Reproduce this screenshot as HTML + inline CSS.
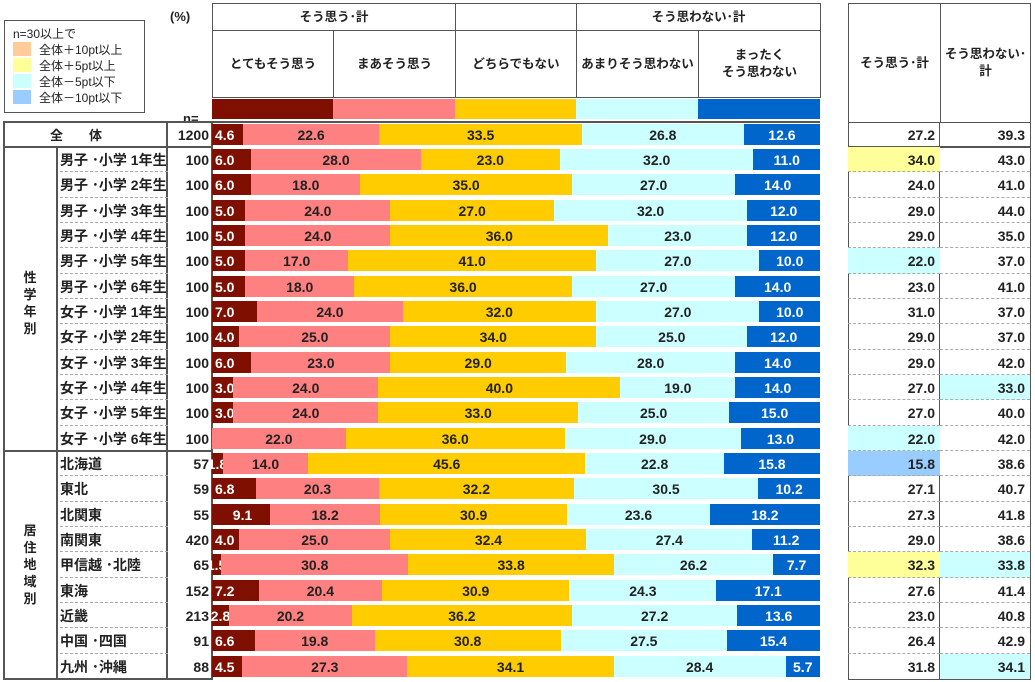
<!DOCTYPE html>
<html><head><meta charset="utf-8"><style>
*{box-sizing:border-box;margin:0;padding:0}
body{width:1035px;height:682px;background:#fff;position:relative;overflow:hidden;font-family:"Liberation Sans","Noto Sans CJK JP",sans-serif;color:#222;font-weight:bold;font-size:13px}
.a{position:absolute}
.r{position:absolute;left:0;width:1035px;height:25.33px}
.lb{position:absolute;left:60px;top:0;height:25.33px;line-height:27px;font-size:14px;width:108px;border-bottom:1px dashed #aaa}
.n{position:absolute;left:167px;width:42px;text-align:right;line-height:27px;font-size:14px}
.bar{position:absolute;left:212px;width:608px;top:2px;height:21px;display:flex}
.bar div{flex-basis:0;text-align:center;line-height:23px;font-size:14px;white-space:nowrap;overflow:visible;min-width:0}
.c1{background:#7f0f00;color:#fff;text-align:left!important;padding-left:3px}
.sm{display:flex;justify-content:center;padding:0!important}
.c2{background:#ff8080}.c3{background:#ffcc00}.c4{background:#ccffff}
.c5{background:#0066cc;color:#fff}
.t1,.t2{position:absolute;top:0;height:25.33px;line-height:27px;text-align:right;padding-right:5px;font-size:14px;border-bottom:1px dashed #aaa}
.t1{left:848px;width:92px}.t2{left:940px;width:90px}
.y{background:#ffff99}.cy{background:#ccffff}.bl{background:#99ccff}
.h{position:absolute;border:1px solid #555;text-align:center;font-size:12.5px;display:flex;align-items:center;justify-content:center;line-height:17px}
.vl{position:absolute;width:2px;background:#555}
.hl{position:absolute;height:2px;background:#555}
</style></head><body>
<div class="a" style="left:4px;top:20px;width:141px;height:93px;border:1px solid #555;font-weight:normal;font-size:12px;line-height:16px;padding:5px 0 0 8px">
<div>n=30以上で</div>
<div><span style="display:inline-block;width:18px;height:14px;background:#ffcc99;vertical-align:-2px;margin-right:8px"></span>全体＋10pt以上</div>
<div><span style="display:inline-block;width:18px;height:14px;background:#ffff99;vertical-align:-2px;margin-right:8px"></span>全体＋5pt以上</div>
<div><span style="display:inline-block;width:18px;height:14px;background:#ccffff;vertical-align:-2px;margin-right:8px"></span>全体－5pt以下</div>
<div><span style="display:inline-block;width:18px;height:14px;background:#99ccff;vertical-align:-2px;margin-right:8px"></span>全体－10pt以下</div>
</div>
<div class="a" style="left:170px;top:9px;font-size:13px">(%)</div>
<div class="a" style="left:183px;top:111px;font-size:13px">n=</div>
<div class="h" style="left:212px;top:3px;width:244px;height:28px">そう思う･計</div>
<div class="h" style="left:455px;top:3px;width:122px;height:28px"></div>
<div class="h" style="left:576px;top:3px;width:245px;height:28px">そう思わない･計</div>
<div class="h" style="left:212px;top:30px;width:122px;height:68px">とてもそう思う</div>
<div class="h" style="left:333px;top:30px;width:123px;height:68px">まあそう思う</div>
<div class="h" style="left:455px;top:30px;width:122px;height:68px">どちらでもない</div>
<div class="h" style="left:576px;top:30px;width:123px;height:68px">あまりそう思わない</div>
<div class="h" style="left:698px;top:30px;width:123px;height:68px">まったく<br>そう思わない</div>
<div class="a" style="left:212px;top:99px;width:121px;height:20px;background:#7f0f00"></div>
<div class="a" style="left:333px;top:99px;width:122px;height:20px;background:#ff8080"></div>
<div class="a" style="left:455px;top:99px;width:121px;height:20px;background:#ffcc00"></div>
<div class="a" style="left:576px;top:99px;width:122px;height:20px;background:#ccffff"></div>
<div class="a" style="left:698px;top:99px;width:122px;height:20px;background:#0066cc"></div>
<div class="h" style="left:848px;top:3px;width:93px;height:120px">そう思う･計</div>
<div class="h" style="left:940px;top:3px;width:91px;height:120px">そう思わない･<br>計</div>
<div class="a" style="left:3px;top:121px;width:210px;height:559px;border:2px solid #555"></div>
<div class="hl" style="left:3px;top:146px;width:210px"></div>
<div class="hl" style="left:3px;top:450px;width:210px"></div>
<div class="vl" style="left:56px;top:147px;height:532px"></div>
<div class="vl" style="left:166px;top:121px;height:559px"></div>
<div class="a" style="left:848px;top:122px;width:183px;height:558px;border:1px solid #555"></div>
<div class="a" style="left:939px;top:122px;width:1px;height:558px;background:#555"></div>
<div class="hl" style="left:212px;top:121px;width:608px"></div>
<div class="a" style="left:15px;top:269px;width:30px;text-align:center;line-height:17px">性<br>学<br>年<br>別</div>
<div class="a" style="left:15px;top:522px;width:30px;text-align:center;line-height:17px">居<br>住<br>地<br>域<br>別</div>

<div class="r" style="top:122px"><div class="a" style="left:50px;line-height:27px">全　　体</div><div class="n">1200</div><div class="bar"><div class="c1" style="flex-grow:4.6">4.6</div><div class="c2" style="flex-grow:22.6">22.6</div><div class="c3" style="flex-grow:33.5">33.5</div><div class="c4" style="flex-grow:26.8">26.8</div><div class="c5" style="flex-grow:12.6">12.6</div></div><div class="t1" style="border:none">27.2</div><div class="t2" style="border:none">39.3</div></div>
<div class="hl" style="left:848px;top:146px;width:183px"></div>

<div class="r" style="top:147px"><div class="lb">男子 ･小学 1年生</div><div class="n">100</div><div class="bar"><div class="c1" style="flex-grow:6">6.0</div><div class="c2" style="flex-grow:28">28.0</div><div class="c3" style="flex-grow:23">23.0</div><div class="c4" style="flex-grow:32">32.0</div><div class="c5" style="flex-grow:11">11.0</div></div><div class="t1 y">34.0</div><div class="t2">43.0</div></div>
<div class="r" style="top:172.33px"><div class="lb">男子 ･小学 2年生</div><div class="n">100</div><div class="bar"><div class="c1" style="flex-grow:6">6.0</div><div class="c2" style="flex-grow:18">18.0</div><div class="c3" style="flex-grow:35">35.0</div><div class="c4" style="flex-grow:27">27.0</div><div class="c5" style="flex-grow:14">14.0</div></div><div class="t1">24.0</div><div class="t2">41.0</div></div>
<div class="r" style="top:197.67px"><div class="lb">男子 ･小学 3年生</div><div class="n">100</div><div class="bar"><div class="c1" style="flex-grow:5">5.0</div><div class="c2" style="flex-grow:24">24.0</div><div class="c3" style="flex-grow:27">27.0</div><div class="c4" style="flex-grow:32">32.0</div><div class="c5" style="flex-grow:12">12.0</div></div><div class="t1">29.0</div><div class="t2">44.0</div></div>
<div class="r" style="top:223px"><div class="lb">男子 ･小学 4年生</div><div class="n">100</div><div class="bar"><div class="c1" style="flex-grow:5">5.0</div><div class="c2" style="flex-grow:24">24.0</div><div class="c3" style="flex-grow:36">36.0</div><div class="c4" style="flex-grow:23">23.0</div><div class="c5" style="flex-grow:12">12.0</div></div><div class="t1">29.0</div><div class="t2">35.0</div></div>
<div class="r" style="top:248.33px"><div class="lb">男子 ･小学 5年生</div><div class="n">100</div><div class="bar"><div class="c1" style="flex-grow:5">5.0</div><div class="c2" style="flex-grow:17">17.0</div><div class="c3" style="flex-grow:41">41.0</div><div class="c4" style="flex-grow:27">27.0</div><div class="c5" style="flex-grow:10">10.0</div></div><div class="t1 cy">22.0</div><div class="t2">37.0</div></div>
<div class="r" style="top:273.67px"><div class="lb">男子 ･小学 6年生</div><div class="n">100</div><div class="bar"><div class="c1" style="flex-grow:5">5.0</div><div class="c2" style="flex-grow:18">18.0</div><div class="c3" style="flex-grow:36">36.0</div><div class="c4" style="flex-grow:27">27.0</div><div class="c5" style="flex-grow:14">14.0</div></div><div class="t1">23.0</div><div class="t2">41.0</div></div>
<div class="r" style="top:299px"><div class="lb">女子 ･小学 1年生</div><div class="n">100</div><div class="bar"><div class="c1" style="flex-grow:7">7.0</div><div class="c2" style="flex-grow:24">24.0</div><div class="c3" style="flex-grow:32">32.0</div><div class="c4" style="flex-grow:27">27.0</div><div class="c5" style="flex-grow:10">10.0</div></div><div class="t1">31.0</div><div class="t2">37.0</div></div>
<div class="r" style="top:324.33px"><div class="lb">女子 ･小学 2年生</div><div class="n">100</div><div class="bar"><div class="c1" style="flex-grow:4">4.0</div><div class="c2" style="flex-grow:25">25.0</div><div class="c3" style="flex-grow:34">34.0</div><div class="c4" style="flex-grow:25">25.0</div><div class="c5" style="flex-grow:12">12.0</div></div><div class="t1">29.0</div><div class="t2">37.0</div></div>
<div class="r" style="top:349.67px"><div class="lb">女子 ･小学 3年生</div><div class="n">100</div><div class="bar"><div class="c1" style="flex-grow:6">6.0</div><div class="c2" style="flex-grow:23">23.0</div><div class="c3" style="flex-grow:29">29.0</div><div class="c4" style="flex-grow:28">28.0</div><div class="c5" style="flex-grow:14">14.0</div></div><div class="t1">29.0</div><div class="t2">42.0</div></div>
<div class="r" style="top:375px"><div class="lb">女子 ･小学 4年生</div><div class="n">100</div><div class="bar"><div class="c1" style="flex-grow:3">3.0</div><div class="c2" style="flex-grow:24">24.0</div><div class="c3" style="flex-grow:40">40.0</div><div class="c4" style="flex-grow:19">19.0</div><div class="c5" style="flex-grow:14">14.0</div></div><div class="t1">27.0</div><div class="t2 cy">33.0</div></div>
<div class="r" style="top:400.33px"><div class="lb">女子 ･小学 5年生</div><div class="n">100</div><div class="bar"><div class="c1" style="flex-grow:3">3.0</div><div class="c2" style="flex-grow:24">24.0</div><div class="c3" style="flex-grow:33">33.0</div><div class="c4" style="flex-grow:25">25.0</div><div class="c5" style="flex-grow:15">15.0</div></div><div class="t1">27.0</div><div class="t2">40.0</div></div>
<div class="r" style="top:425.67px"><div class="lb" style="border:none">女子 ･小学 6年生</div><div class="n">100</div><div class="bar"><div class="c2" style="flex-grow:22">22.0</div><div class="c3" style="flex-grow:36">36.0</div><div class="c4" style="flex-grow:29">29.0</div><div class="c5" style="flex-grow:13">13.0</div></div><div class="t1 cy">22.0</div><div class="t2">42.0</div></div>

<div class="r" style="top:451px"><div class="lb">北海道</div><div class="n">57</div><div class="bar"><div class="c1 sm" style="flex-grow:1.8">1.8</div><div class="c2" style="flex-grow:14">14.0</div><div class="c3" style="flex-grow:45.6">45.6</div><div class="c4" style="flex-grow:22.8">22.8</div><div class="c5" style="flex-grow:15.8">15.8</div></div><div class="t1 bl">15.8</div><div class="t2">38.6</div></div>
<div class="r" style="top:476.33px"><div class="lb">東北</div><div class="n">59</div><div class="bar"><div class="c1" style="flex-grow:6.8">6.8</div><div class="c2" style="flex-grow:20.3">20.3</div><div class="c3" style="flex-grow:32.2">32.2</div><div class="c4" style="flex-grow:30.5">30.5</div><div class="c5" style="flex-grow:10.2">10.2</div></div><div class="t1">27.1</div><div class="t2">40.7</div></div>
<div class="r" style="top:501.67px"><div class="lb">北関東</div><div class="n">55</div><div class="bar"><div class="c1" style="flex-grow:9.1;text-align:center!important">9.1</div><div class="c2" style="flex-grow:18.2">18.2</div><div class="c3" style="flex-grow:30.9">30.9</div><div class="c4" style="flex-grow:23.6">23.6</div><div class="c5" style="flex-grow:18.2">18.2</div></div><div class="t1">27.3</div><div class="t2">41.8</div></div>
<div class="r" style="top:527px"><div class="lb">南関東</div><div class="n">420</div><div class="bar"><div class="c1" style="flex-grow:4">4.0</div><div class="c2" style="flex-grow:25">25.0</div><div class="c3" style="flex-grow:32.4">32.4</div><div class="c4" style="flex-grow:27.4">27.4</div><div class="c5" style="flex-grow:11.2">11.2</div></div><div class="t1">29.0</div><div class="t2">38.6</div></div>
<div class="r" style="top:552.33px"><div class="lb">甲信越 ･北陸</div><div class="n">65</div><div class="bar"><div class="c1 sm" style="flex-grow:1.5">1.5</div><div class="c2" style="flex-grow:30.8">30.8</div><div class="c3" style="flex-grow:33.8">33.8</div><div class="c4" style="flex-grow:26.2">26.2</div><div class="c5" style="flex-grow:7.7">7.7</div></div><div class="t1 y">32.3</div><div class="t2 cy">33.8</div></div>
<div class="r" style="top:577.67px"><div class="lb">東海</div><div class="n">152</div><div class="bar"><div class="c1" style="flex-grow:7.2">7.2</div><div class="c2" style="flex-grow:20.4">20.4</div><div class="c3" style="flex-grow:30.9">30.9</div><div class="c4" style="flex-grow:24.3">24.3</div><div class="c5" style="flex-grow:17.1">17.1</div></div><div class="t1">27.6</div><div class="t2">41.4</div></div>
<div class="r" style="top:603px"><div class="lb">近畿</div><div class="n">213</div><div class="bar"><div class="c1 sm" style="flex-grow:2.8">2.8</div><div class="c2" style="flex-grow:20.2">20.2</div><div class="c3" style="flex-grow:36.2">36.2</div><div class="c4" style="flex-grow:27.2">27.2</div><div class="c5" style="flex-grow:13.6">13.6</div></div><div class="t1">23.0</div><div class="t2">40.8</div></div>
<div class="r" style="top:628.33px"><div class="lb">中国 ･四国</div><div class="n">91</div><div class="bar"><div class="c1" style="flex-grow:6.6">6.6</div><div class="c2" style="flex-grow:19.8">19.8</div><div class="c3" style="flex-grow:30.8">30.8</div><div class="c4" style="flex-grow:27.5">27.5</div><div class="c5" style="flex-grow:15.4">15.4</div></div><div class="t1">26.4</div><div class="t2">42.9</div></div>
<div class="r" style="top:653.67px"><div class="lb" style="border:none">九州 ･沖縄</div><div class="n">88</div><div class="bar"><div class="c1" style="flex-grow:4.5">4.5</div><div class="c2" style="flex-grow:27.3">27.3</div><div class="c3" style="flex-grow:34.1">34.1</div><div class="c4" style="flex-grow:28.4">28.4</div><div class="c5" style="flex-grow:5.7">5.7</div></div><div class="t1" style="border:none">31.8</div><div class="t2 cy" style="border:none">34.1</div></div>
</body></html>
